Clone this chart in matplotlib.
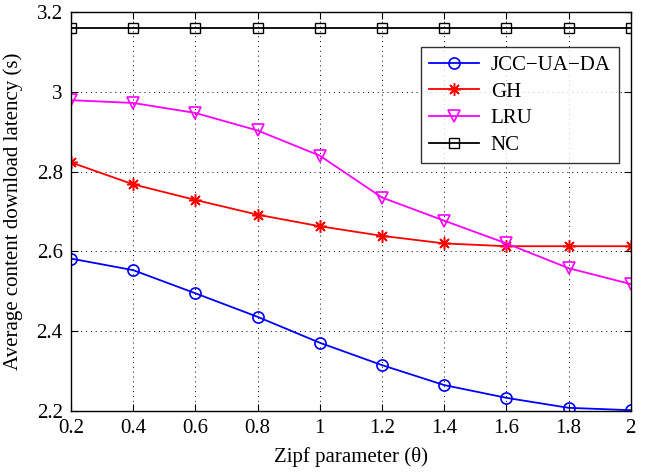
import matplotlib
matplotlib.use('Agg')
import matplotlib.pyplot as plt

plt.rcParams['font.family'] = ['Liberation Serif', 'DejaVu Serif']

zipf = [0.2, 0.4, 0.6, 0.8, 1.0, 1.2, 1.4, 1.6, 1.8, 2.0]
jcc = [2.582, 2.553, 2.495, 2.436, 2.371, 2.315, 2.265, 2.233, 2.208, 2.202]
gh = [2.823, 2.768, 2.729, 2.692, 2.663, 2.639, 2.620, 2.613, 2.613, 2.613]
lru = [2.979, 2.972, 2.947, 2.903, 2.840, 2.735, 2.677, 2.620, 2.558, 2.518]
nc = [3.160, 3.160, 3.160, 3.160, 3.160, 3.160, 3.160, 3.160, 3.160, 3.160]

xticks = [0.2, 0.4, 0.6, 0.8, 1.0, 1.2, 1.4, 1.6, 1.8, 2.0]
xticklabels = ['0.2', '0.4', '0.6', '0.8', '1', '1.2', '1.4', '1.6', '1.8', '2']
yticks = [2.2, 2.4, 2.6, 2.8, 3.0, 3.2]
yticklabels = ['2.2', '2.4', '2.6', '2.8', '3', '3.2']

fig = plt.figure(figsize=(6.55, 4.74), dpi=100)
ax = fig.add_axes([0.1084, 0.1329, 0.8546, 0.8418])

# asterisk with 8 arms for GH
ax.plot(zipf, jcc, '-', color='#0000ff', marker='o', mfc='none', mec='#0000ff', ms=8, mew=1.2, lw=1.3, label='JCC\u2212UA\u2212DA')
ax.plot(zipf, gh, '-', color='#ff0000', marker=(8, 2, 0), mec='#ff0000', ms=9, mew=1.1, lw=1.3, label='GH')
ax.plot(zipf, lru, '-', color='#ff00ff', marker='v', mfc='none', mec='#ff00ff', ms=9, mew=1.2, lw=1.3, label='LRU')
ax.plot(zipf, nc, '-', color='k', marker='s', mfc='none', mec='k', ms=7, mew=1.0, lw=1.3, label='NC')

ax.set_xlim(0.2, 2.0)
ax.set_ylim(2.2, 3.2)
ax.set_xticks(xticks)
ax.set_xticklabels(xticklabels)
ax.set_yticks(yticks)
ax.set_yticklabels(yticklabels)
ax.tick_params(axis='both', direction='in', top=True, right=True, labelsize=15, length=5, pad=6)
ax.grid(True, linestyle=(0, (1, 4)), color='k', lw=0.7)
for s in ax.spines.values():
    s.set_linewidth(1.0)

ax.set_xlabel('Zipf parameter (\u03b8)', fontsize=15, labelpad=6)
ax.set_ylabel('Average content download latency (s)', fontsize=15, labelpad=10)

leg = ax.legend(loc='upper right', bbox_to_anchor=(0.979, 0.912), borderaxespad=0, fontsize=15, frameon=True,
                fancybox=False, handlelength=2.4, borderpad=0.4, labelspacing=0.34, handletextpad=0.55)
leg.get_frame().set_edgecolor('k')
leg.get_frame().set_linewidth(1.0)

plt.savefig('out.png', dpi=100)
